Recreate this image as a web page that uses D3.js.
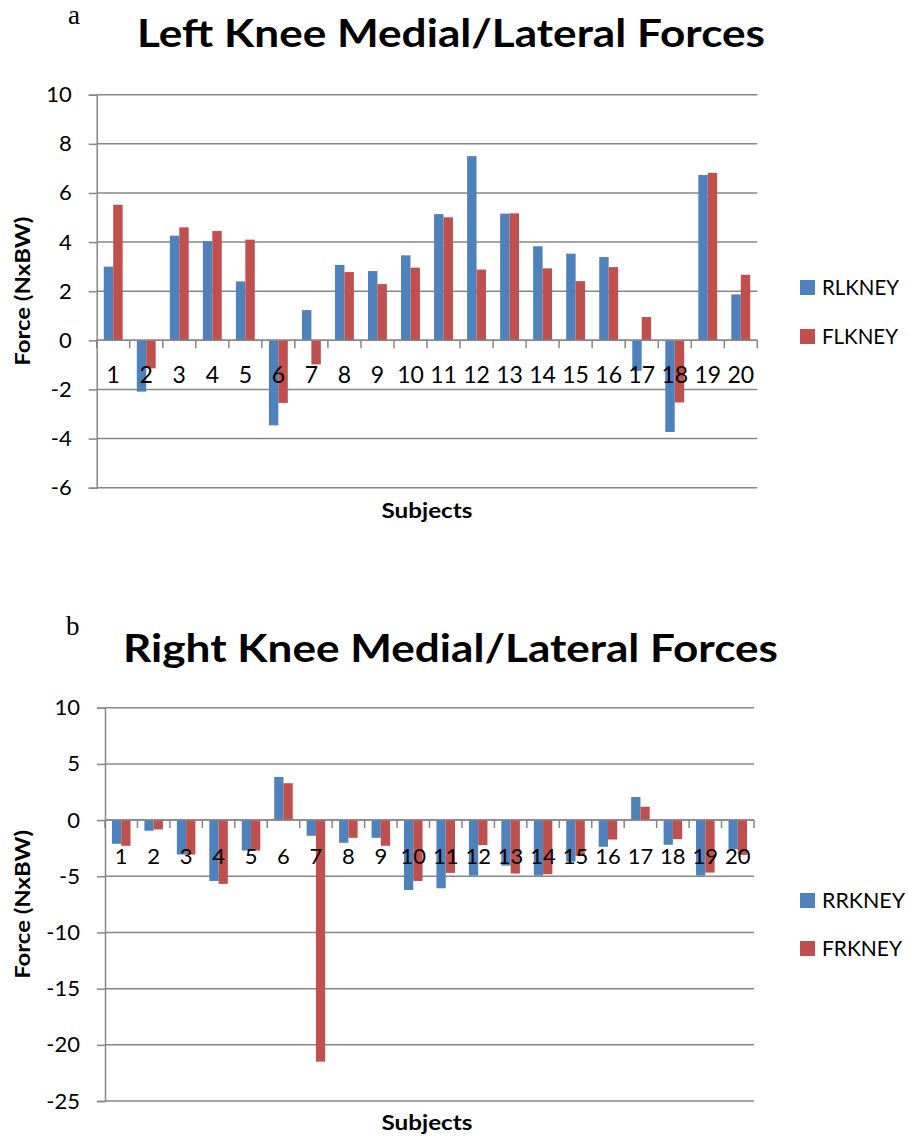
<!DOCTYPE html>
<html>
<head>
<meta charset="utf-8">
<script src="https://cdn.jsdelivr.net/npm/d3@7"></script>
<style>
  html, body { margin: 0; padding: 0; background: #fff; }
  svg { display: block; }
  text { font-family: Lato, "Open Sans", sans-serif; fill: #000; }
</style>
</head>
<body>
<svg id="chart" width="908" height="1137"></svg>
<script>
// ---- Data ----
const subjects = ["1","2","3","4","5","6","7","8","9","10","11","12","13","14","15","16","17","18","19","20"];

// Chart a: Left knee
const leftSeries = ["RLKNEY", "FLKNEY"];
const RLKNEY = [3.0, -2.09, 4.26, 4.04, 2.40, -3.46, 1.23, 3.07, 2.82, 3.46, 5.14, 7.50, 5.16, 3.83, 3.53, 3.39, -1.24, -3.73, 6.73, 1.87];
const FLKNEY = [5.52, -1.14, 4.60, 4.45, 4.10, -2.55, -0.98, 2.78, 2.29, 2.96, 5.01, 2.88, 5.17, 2.93, 2.41, 2.98, 0.95, -2.53, 6.82, 2.67];
const leftTicks = [10, 8, 6, 4, 2, 0, -2, -4, -6];

// Chart b: Right knee
const rightSeries = ["RRKNEY", "FRKNEY"];
const RRKNEY = [-2.11, -0.95, -3.07, -5.42, -2.71, 3.84, -1.40, -2.02, -1.58, -6.22, -6.07, -4.94, -4.05, -4.94, -3.70, -2.38, 2.05, -2.20, -4.94, -2.60];
const FRKNEY = [-2.29, -0.83, -3.07, -5.68, -2.71, 3.28, -21.5, -1.58, -2.29, -5.42, -4.70, -2.23, -4.76, -4.82, -3.20, -1.73, 1.19, -1.70, -4.67, -3.10];
const rightTicks = [10, 5, 0, -5, -10, -15, -20, -25];

const colors = ["#4F81BD", "#C0504D"];
const gridColor = "#878787";

const svg = d3.select("#chart");

function fitWidth(sel, width) {
  sel.attr("textLength", width).attr("lengthAdjust", "spacingAndGlyphs");
}

function drawChart(cfg) {
  const g = svg.append("g");
  const x0 = d3.scaleBand().domain(subjects).range([cfg.left, cfg.right]).padding(0);
  const x1 = d3.scaleBand().domain(cfg.series).range([0, x0.bandwidth()]).paddingInner(0).paddingOuter(0.75);
  const y = d3.scaleLinear().domain(cfg.domain).range([cfg.bottom, cfg.top]);

  // panel letter
  g.append("text").attr("x", cfg.letterX).attr("y", cfg.letterY)
    .style("font-family", "'Liberation Serif', 'DejaVu Serif', serif")
    .style("font-size", "27px").text(cfg.letter);

  // title
  g.append("text").attr("x", cfg.titleX).attr("y", cfg.titleY)
    .style("font-weight", "bold").style("font-size", "39px").text(cfg.title)
    .call(fitWidth, cfg.titleW);

  // gridlines
  g.append("g").selectAll("line").data(cfg.ticks).join("line")
    .attr("x1", cfg.left).attr("x2", cfg.right)
    .attr("y1", d => y(d)).attr("y2", d => y(d))
    .attr("stroke", gridColor).attr("stroke-width", 1.5);

  // y axis
  const yAxis = d3.axisLeft(y).tickValues(cfg.ticks).tickSize(8).tickPadding(cfg.tickPad).tickFormat(d => String(d));
  const ya = g.append("g").attr("transform", `translate(${cfg.left},0)`).call(yAxis);
  ya.select(".domain").attr("stroke", gridColor).attr("stroke-width", 1.5);
  ya.selectAll(".tick line").attr("stroke", gridColor).attr("stroke-width", 1.5);
  ya.selectAll(".tick text").style("font-size", "22px").style("font-family", "Lato, sans-serif").attr("fill", "#000");

  // bars
  const data = subjects.map((s, i) => ({ s, vals: cfg.values.map((arr, k) => ({ k, name: cfg.series[k], v: arr[i] })) }));
  g.append("g").selectAll("g").data(data).join("g")
    .attr("transform", d => `translate(${x0(d.s)},0)`)
    .selectAll("rect").data(d => d.vals).join("rect")
    .attr("x", d => x1(d.name))
    .attr("width", x1.bandwidth())
    .attr("y", d => y(Math.max(0, d.v)))
    .attr("height", d => Math.abs(y(d.v) - y(0)))
    .attr("fill", d => colors[d.k]);

  // x axis line at zero with ticks at category boundaries
  const y0 = y(0);
  g.append("line").attr("x1", cfg.left).attr("x2", cfg.right).attr("y1", y0).attr("y2", y0)
    .attr("stroke", gridColor).attr("stroke-width", 1.5);
  const bounds = subjects.map(s => x0(s)).concat([cfg.right]);
  g.append("g").selectAll("line").data(bounds).join("line")
    .attr("x1", d => d).attr("x2", d => d).attr("y1", y0).attr("y2", y0 + 8)
    .attr("stroke", gridColor).attr("stroke-width", 1.5);

  // category labels
  g.append("g").selectAll("text").data(subjects).join("text")
    .attr("x", d => x0(d) + x0.bandwidth() / 2)
    .attr("y", cfg.catY)
    .attr("text-anchor", "middle")
    .style("font-size", cfg.catSize)
    .text(d => d);

  // axis titles
  g.append("text").attr("x", cfg.xTitleX).attr("y", cfg.xTitleY).attr("text-anchor", "middle")
    .style("font-weight", "bold").style("font-size", "21px").text("Subjects")
    .call(fitWidth, 91);
  g.append("text")
    .attr("transform", `translate(30,${(cfg.top + cfg.bottom) / 2}) rotate(-90)`)
    .attr("text-anchor", "middle")
    .style("font-weight", "bold").style("font-size", "20px").text("Force (NxBW)")
    .call(fitWidth, 149);

  // legend
  const lg = g.append("g");
  cfg.series.forEach((name, k) => {
    const ly = cfg.legendY[k];
    lg.append("rect").attr("x", 800).attr("y", ly).attr("width", 15).attr("height", 15).attr("fill", colors[k]);
    lg.append("text").attr("x", 822).attr("y", ly + 15).style("font-size", "21px").text(name)
      .call(fitWidth, cfg.legendW[k]);
  });
}

drawChart({
  letter: "a", letterX: 68, letterY: 24,
  title: "Left Knee Medial/Lateral Forces", titleX: 137, titleY: 47, titleW: 628,
  left: 96.7, right: 757.3, top: 94.7, bottom: 487.7, domain: [-6, 10],
  ticks: leftTicks, tickPad: 17,
  series: leftSeries, values: [RLKNEY, FLKNEY],
  catY: 383, catSize: "23px",
  xTitleX: 427, xTitleY: 518,
  legendY: [280, 329], legendW: [77, 76]
});

drawChart({
  letter: "b", letterX: 66, letterY: 635,
  title: "Right Knee Medial/Lateral Forces", titleX: 123, titleY: 662, titleW: 655,
  left: 105, right: 754, top: 707.7, bottom: 1101, domain: [-25, 10],
  ticks: rightTicks, tickPad: 17,
  series: rightSeries, values: [RRKNEY, FRKNEY],
  catY: 864, catSize: "22px",
  xTitleX: 427, xTitleY: 1130,
  legendY: [893, 941], legendW: [83, 80]
});
</script>
</body>
</html>
